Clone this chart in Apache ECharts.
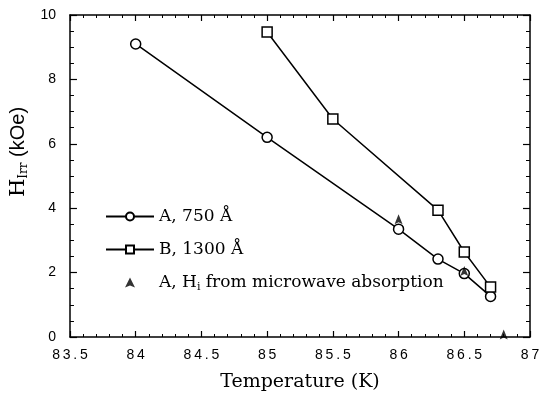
<!DOCTYPE html>
<html>
<head>
<meta charset="utf-8">
<script src="https://cdn.jsdelivr.net/npm/echarts@6/dist/echarts.min.js"></script>
<style>
  html, body { margin: 0; padding: 0; background: #fff; }
  #chart { width: 546px; height: 398px; }
</style>
</head>
<body>
<div id="chart"></div>
<script>
// Irreversibility field vs temperature for two film thicknesses
const tempA = [84.0, 85.0, 86.0, 86.3, 86.5, 86.7];
const hirrA = [9.1, 6.2, 3.35, 2.42, 1.97, 1.26];

const tempB = [85.0, 85.5, 86.3, 86.5, 86.7];
const hirrB = [9.47, 6.77, 3.94, 2.64, 1.55];

// Film A, H_i from microwave absorption
const tempMW = [86.0, 86.5, 86.8];
const hiMW = [3.66, 2.05, 0.08];

const xTicks = [83.5, 84, 84.5, 85, 85.5, 86, 86.5, 87];
const yTicks = [0, 2, 4, 6, 8, 10];

const nameA = 'A, 750 Å';
const nameB = 'B, 1300 Å';
const nameMW = 'A, Hi from microwave absorption';

const pairs = (xs, ys) => xs.map((x, i) => [x, ys[i]]);
const spaced = v => String(v).split('').join('\u2009');

const chart = echarts.init(document.getElementById('chart'), null, { renderer: 'canvas' });

const serif = 'DejaVu Serif, Liberation Serif, serif';
const sans = 'Liberation Sans, DejaVu Sans, sans-serif';
const triangle = 'path://M5,0 L10,10 L5,8 L0,10 Z';

const xBase = {
  type: 'value',
  min: xTicks[0],
  max: xTicks[xTicks.length - 1],
  interval: 0.5,
  splitLine: { show: false },
  axisLine: { show: true, onZero: false, lineStyle: { color: '#000', width: 1.5 } },
  axisTick: { show: true, inside: true, length: 6, lineStyle: { color: '#000', width: 1.2 } },
  minorTick: { show: true, splitNumber: 5, length: 3, lineStyle: { color: '#000', width: 1 } }
};
const yBase = {
  type: 'value',
  min: yTicks[0],
  max: yTicks[yTicks.length - 1],
  interval: 2,
  splitLine: { show: false },
  axisLine: { show: true, onZero: false, lineStyle: { color: '#000', width: 1.5 } },
  axisTick: { show: true, inside: true, length: 7, lineStyle: { color: '#000', width: 1.2 } },
  minorTick: { show: true, splitNumber: 4, length: 4, lineStyle: { color: '#000', width: 1 } }
};

chart.setOption({
  backgroundColor: '#fff',
  animation: false,
  grid: { left: 68, right: 16, top: 15, bottom: 61 },
  legend: {
    orient: 'vertical',
    left: 100,
    top: 203,
    itemGap: 16,
    itemWidth: 48,
    itemHeight: 10,
    symbolKeepAspect: true,
    data: [
      { name: nameA },
      { name: nameB },
      { name: nameMW, icon: triangle }
    ],
    textStyle: {
      fontFamily: serif,
      fontSize: 17,
      color: '#000',
      rich: {
        n: { fontFamily: serif, fontSize: 17, color: '#000' },
        s: { fontFamily: serif, fontSize: 11, color: '#000', verticalAlign: 'bottom', padding: [10, 0, 0, 0] }
      }
    },
    formatter: function (name) {
      if (name === nameMW) {
        return '{n|A, H}{s|i}{n| from microwave absorption}';
      }
      return '{n|' + name + '}';
    }
  },
  xAxis: [
    Object.assign({}, xBase, {
      position: 'bottom',
      name: 'Temperature (K)',
      nameLocation: 'middle',
      nameGap: 36,
      nameTextStyle: { fontFamily: serif, fontSize: 19, color: '#000' },
      axisLabel: {
        show: true, margin: 11, color: '#000', fontFamily: sans, fontSize: 14,
        formatter: v => spaced(v)
      }
    }),
    Object.assign({}, xBase, { position: 'top', axisLabel: { show: false } })
  ],
  yAxis: [
    Object.assign({}, yBase, {
      position: 'left',
      name: '{h|H}{s|Irr}{k| (kOe)}',
      nameLocation: 'middle',
      nameGap: 38,
      nameRotate: 90,
      nameTextStyle: {
        color: '#000',
        padding: [0, 0, 0, 48],
        rich: {
          h: { fontFamily: serif, fontSize: 21, color: '#000' },
          s: { fontFamily: serif, fontSize: 12, color: '#000', padding: [10, 0, 0, 0] },
          k: { fontFamily: sans, fontSize: 20, color: '#000' }
        }
      },
      axisLabel: { show: true, margin: 14, color: '#000', fontFamily: sans, fontSize: 14 }
    }),
    Object.assign({}, yBase, { position: 'right', axisLabel: { show: false } })
  ],
  series: [
    {
      name: nameA,
      type: 'line',
      data: pairs(tempA, hirrA),
      symbol: 'circle',
      symbolSize: 10,
      showAllSymbol: true,
      lineStyle: { color: '#000', width: 1.5 },
      itemStyle: { color: '#fff', borderColor: '#000', borderWidth: 1.5 },
      z: 3
    },
    {
      name: nameB,
      type: 'line',
      data: pairs(tempB, hirrB),
      symbol: 'rect',
      symbolSize: 10,
      showAllSymbol: true,
      lineStyle: { color: '#000', width: 1.5 },
      itemStyle: { color: '#fff', borderColor: '#000', borderWidth: 1.5 },
      z: 3
    },
    {
      name: nameMW,
      type: 'scatter',
      data: pairs(tempMW, hiMW),
      symbol: triangle,
      symbolSize: [8, 10],
      itemStyle: { color: '#000' },
      z: 4
    }
  ]
});
</script>
</body>
</html>
